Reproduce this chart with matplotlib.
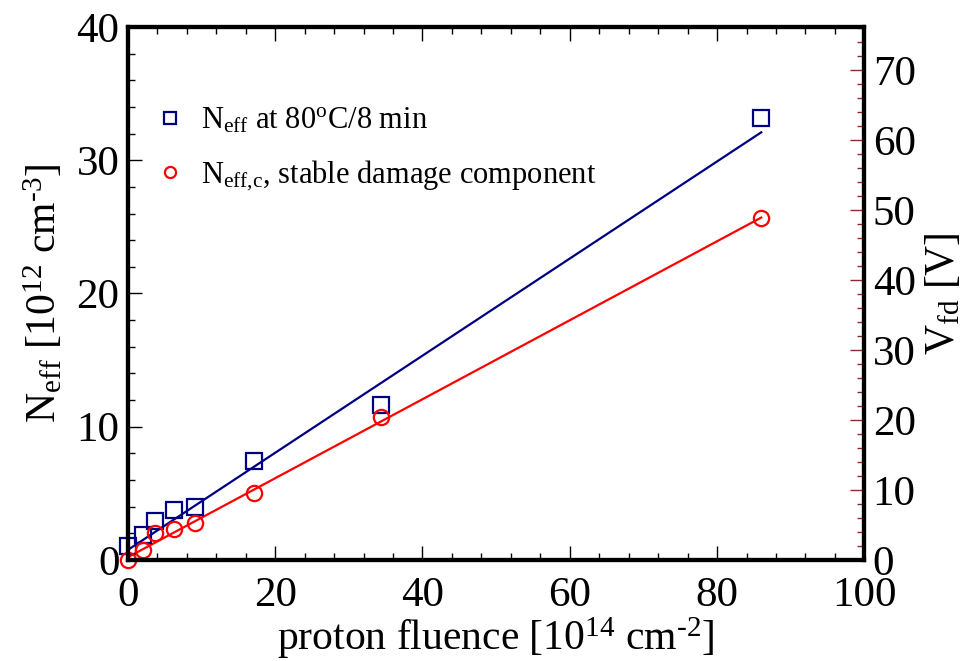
import matplotlib
matplotlib.use("Agg")
import matplotlib.pyplot as plt
from matplotlib.ticker import MultipleLocator
from matplotlib.lines import Line2D

plt.rcParams['font.family'] = ['Liberation Serif', 'DejaVu Serif']
plt.rcParams['mathtext.fontset'] = 'custom'
plt.rcParams['mathtext.rm'] = 'Liberation Serif'
plt.rcParams['mathtext.it'] = 'Liberation Serif:italic'

# data
fluence_sq = [0.0, 2.0, 3.7, 6.2, 9.1, 17.1, 34.4, 86.0]
neff_sq = [1.05, 1.9, 2.9, 3.75, 4.0, 7.4, 11.6, 33.2]
fluence_ci = [0.0, 2.0, 3.7, 6.2, 9.1, 17.1, 34.4, 86.0]
neff_ci = [0.0, 0.75, 2.0, 2.3, 2.8, 5.0, 10.7, 25.7]
fit_x = [0.0, 86.0]
fit_sq = [0.75, 32.1]
fit_ci = [0.2, 25.7]

navy = '#000080'
red = '#ff0000'

fig = plt.figure(figsize=(9.69, 6.61), dpi=100)
ax = fig.add_axes([0.132, 0.153, 0.760, 0.806])

ax.plot(fit_x, fit_sq, color=navy, lw=1.6)
ax.plot(fit_x, fit_ci, color=red, lw=1.6)
ax.plot(fluence_sq, neff_sq, ls='none', marker='s', ms=12, mfc='none', mec=navy, mew=1.6, clip_on=False)
ax.plot(fluence_ci, neff_ci, ls='none', marker='o', ms=11, mfc='none', mec=red, mew=1.6, clip_on=False)

ax.set_xlim(0, 100)
ax.set_ylim(0, 40)
ax.xaxis.set_major_locator(MultipleLocator(20))
ax.xaxis.set_minor_locator(MultipleLocator(4))
ax.yaxis.set_major_locator(MultipleLocator(10))
ax.yaxis.set_minor_locator(MultipleLocator(2))
ax.tick_params(axis='both', which='both', direction='in', labelsize=31, top=True, right=False, width=1.0)
ax.tick_params(which='major', length=10)
ax.tick_params(which='minor', length=5)
ax.tick_params(axis='x', pad=12)
ax.tick_params(axis='y', pad=6)
for s in ax.spines.values():
    s.set_linewidth(3)

ax.set_xlabel('proton fluence [10$^{\\mathregular{14}}$ cm$^{\\mathregular{\u20102}}$]', fontsize=30, labelpad=0)
ax.set_ylabel('N$_{\\mathregular{eff}}$ [10$^{\\mathregular{12}}$ cm$^{\\mathregular{\u20103}}$]', fontsize=30, labelpad=8)

ax2 = ax.twinx()
ax2.set_ylim(0, 76.1)
ax2.yaxis.set_major_locator(MultipleLocator(10))
ax2.yaxis.set_minor_locator(MultipleLocator(2))
ax2.tick_params(axis='y', which='both', direction='in', labelsize=31, color='#8b2a2a', width=1.0, pad=6)
ax2.tick_params(which='major', length=10)
ax2.tick_params(which='minor', length=5)
for s in ax2.spines.values():
    s.set_linewidth(3)
ax2.set_ylabel('V$_{\\mathregular{fd}}$ [V]', fontsize=30, labelpad=6)

handles = [
    Line2D([], [], ls='none', marker='s', ms=8, mfc='none', mec=navy, mew=1.6),
    Line2D([], [], ls='none', marker='o', ms=8, mfc='none', mec=red, mew=1.6),
]
labels = ['N$_{\\mathregular{eff}}$ at 80$^{\\mathregular{o}}$C/8 min',
          'N$_{\\mathregular{eff{,}c}}$, stable damage component']
ax.legend(handles, labels, loc='upper left', bbox_to_anchor=(0.02, 0.875), frameon=False,
          fontsize=22, handletextpad=0.5, labelspacing=0.75, handlelength=1.0, borderaxespad=0)

fig.savefig('out.png', dpi=100)
